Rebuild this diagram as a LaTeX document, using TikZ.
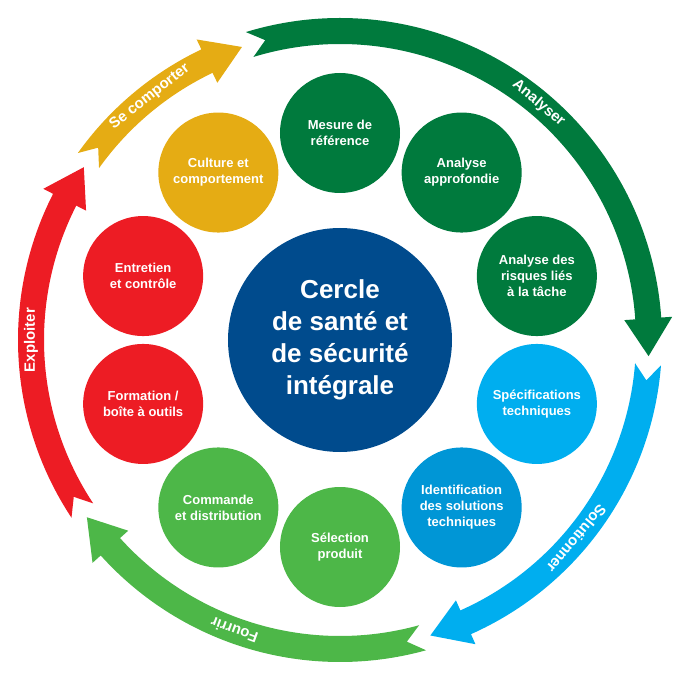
\documentclass[tikz,border=0pt]{standalone}
\usepackage{fontspec}
\setmainfont{Liberation Sans}
\definecolor{dgreen}{HTML}{007A3D}
\definecolor{lblue}{HTML}{00AEEF}
\definecolor{mblue}{HTML}{0096D6}
\definecolor{lgreen}{HTML}{4DB748}
\definecolor{cred}{HTML}{ED1C24}
\definecolor{cyel}{HTML}{E5AC14}
\definecolor{navy}{HTML}{004B8D}
\newcommand{\ringseg}[3]{%
  \pgfmathsetmacro{\ah}{#3+7}\pgfmathsetmacro{\at}{#2-3}%
  \fill[#1] (#2:322pt) arc[start angle=#2, end angle=\ah, radius=322pt] -- (\ah:333pt) -- (#3:309pt) -- (\ah:285pt) -- (\ah:296pt) arc[start angle=\ah, end angle=#2, radius=296pt] -- (\at:309pt) -- cycle;}
\begin{document}
\begin{tikzpicture}[x=1pt,y=1pt,
  small/.style={circle, minimum size=120pt, inner sep=0pt, text=white, align=center, font=\bfseries\fontsize{13}{16}\selectfont},
  lab/.style={text=white, font=\bfseries\fontsize{15}{18}\selectfont}]
\useasboundingbox (-340,-340) rectangle (340,340);
\ringseg{dgreen}{107}{-3}
\ringseg{lblue}{-4.5}{-73}
\ringseg{lgreen}{-74.5}{-145}
\ringseg{cred}{213.5}{146}
\ringseg{cyel}{144.5}{108.5}
\node[lab, rotate=-40] (t1) at (50:309) {Analyser};
\node[lab, rotate=-130] (t2) at (-40:309) {Solutionner};
\node[lab, rotate=-200] (t3) at (-110:309) {Fourrir};
\node[lab, rotate=90] (t4) at (180:309) {Exploiter};
\node[lab, rotate=38] (t5) at (128:309) {Se comporter};
\node[circle, fill=navy, minimum size=224pt, text=white, align=center, font=\bfseries\fontsize{26}{32}\selectfont] (c) at (0,0) {Cercle\\de santé et\\de sécurité\\intégrale};
\node[small, fill=dgreen] (n1) at (90:207) {Mesure de\\référence};
\node[small, fill=dgreen] (n2) at (54:207) {Analyse\\approfondie};
\node[small, fill=dgreen] (n3) at (18:207) {Analyse des\\risques liés\\à la tâche};
\node[small, fill=lblue] (n4) at (-18:207) {Spécifications\\techniques};
\node[small, fill=mblue] (n5) at (-54:207) {Identification\\des solutions\\techniques};
\node[small, fill=lgreen] (n6) at (-90:207) {Sélection\\produit};
\node[small, fill=lgreen] (n7) at (-126:207) {Commande\\et distribution};
\node[small, fill=cred] (n8) at (-162:207) {Formation /\\boîte à outils};
\node[small, fill=cred] (n9) at (162:207) {Entretien\\et contrôle};
\node[small, fill=cyel] (n10) at (126:207) {Culture et\\comportement};
\end{tikzpicture}
\end{document}
